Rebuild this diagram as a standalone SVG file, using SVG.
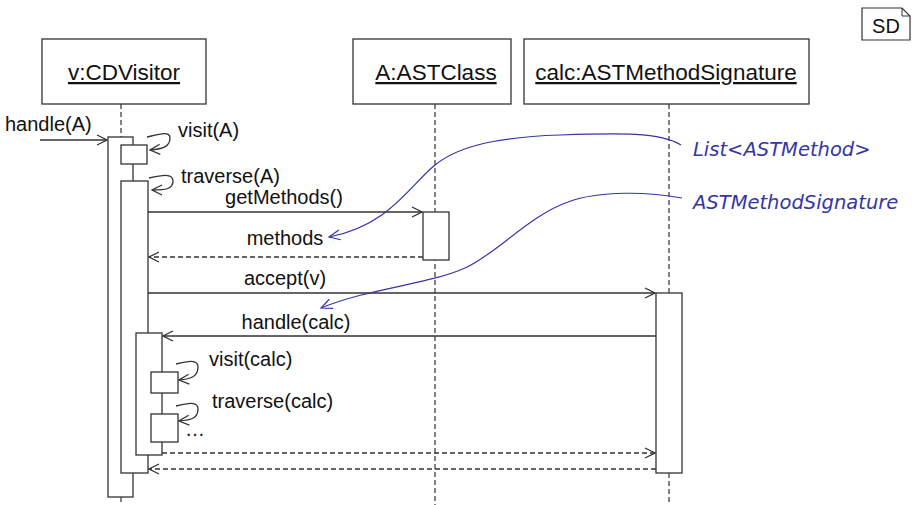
<svg xmlns="http://www.w3.org/2000/svg" width="912" height="505" viewBox="0 0 912 505">
  <style>
    .obj { fill: #fff; stroke: #333; stroke-width: 1.3; }
    .act { fill: #fff; stroke: #333; stroke-width: 1.3; }
    .title { font-family: "Liberation Sans", Arial, sans-serif; font-size: 22.5px; fill: #111; text-decoration: underline; text-anchor: middle; }
    .lbl { font-family: "Liberation Sans", Arial, sans-serif; font-size: 20px; fill: #111; }
    .life { stroke: #333; stroke-width: 1.2; stroke-dasharray: 5 3; fill: none; }
    .msg { stroke: #333; stroke-width: 1.3; fill: none; marker-end: url(#open); }
    .ret { stroke: #333; stroke-width: 1.3; fill: none; stroke-dasharray: 5 3; marker-end: url(#open); }
    .self { stroke: #333; stroke-width: 1.3; fill: none; marker-end: url(#open); }
    .note { stroke: #3535a5; stroke-width: 1.2; fill: none; marker-end: url(#openBlue); }
    .ntxt { font-family: "DejaVu Sans", sans-serif; font-style: italic; font-size: 19.5px; fill: #3535a5; }
  </style>
  <defs>
    <marker id="open" markerWidth="12" markerHeight="12" refX="11" refY="6" orient="auto" markerUnits="userSpaceOnUse">
      <path d="M1,1 L11,6 L1,11" fill="none" stroke="#333" stroke-width="1.3"/>
    </marker>
    <marker id="openBlue" markerWidth="14" markerHeight="12" refX="12" refY="6" orient="auto" markerUnits="userSpaceOnUse">
      <path d="M1,1 L12,6 L1,11" fill="none" stroke="#3535a5" stroke-width="1.2"/>
    </marker>
  </defs>

  <!-- frame tag -->
  <g id="frame-tag">
    <path d="M862,8 H902 L910,16 V40 H862 Z" fill="#fff" stroke="#333" stroke-width="1.2"/>
    <path d="M902,8 V16 H910" fill="none" stroke="#333" stroke-width="1"/>
    <text x="886" y="33" class="lbl" font-size="22" text-anchor="middle">SD</text>
  </g>

  <!-- lifelines -->
  <g id="lifelines">
    <line class="life" x1="121" y1="104" x2="121" y2="137"/>
    <line class="life" x1="121" y1="497" x2="121" y2="505"/>
    <line class="life" x1="435" y1="104" x2="435" y2="505"/>
    <line class="life" x1="669" y1="104" x2="669" y2="293"/>
    <line class="life" x1="669" y1="473" x2="669" y2="505"/>
  </g>

  <!-- objects -->
  <g id="v">
    <rect class="obj" x="42" y="39" width="164" height="65"/>
    <text class="title" x="124" y="80">v:CDVisitor</text>
  </g>
  <g id="A">
    <rect class="obj" x="353" y="39" width="158" height="65"/>
    <text class="title" x="436" y="80">A:ASTClass</text>
  </g>
  <g id="calc">
    <rect class="obj" x="524" y="39" width="285" height="65"/>
    <text class="title" x="666" y="80">calc:ASTMethodSignature</text>
  </g>

  <!-- activations -->
  <g id="activations">
    <rect class="act" x="108" y="137" width="25" height="360"/>
    <rect class="act" x="121" y="145" width="26" height="19"/>
    <rect class="act" x="121" y="181" width="27" height="292"/>
    <rect class="act" x="423" y="212" width="26" height="48"/>
    <rect class="act" x="656" y="293" width="26" height="180"/>
    <rect class="act" x="136" y="333" width="26" height="122"/>
    <rect class="act" x="151" y="372" width="27" height="21"/>
    <rect class="act" x="151" y="414" width="27" height="28"/>
  </g>

  <!-- messages -->
  <g id="connectors">
    <line class="msg" x1="40" y1="140" x2="107" y2="140"/>
    <path class="self" d="M147,137 C160,134 170,131 170,138 C170,146 164,149 150,150"/>
    <path class="self" d="M149,178 C162,175 173,173 173,181 C173,189 166,190 152,190"/>
    <line class="msg" x1="148" y1="212" x2="422" y2="212"/>
    <line class="ret" x1="423" y1="257" x2="149" y2="257"/>
    <line class="msg" x1="148" y1="293" x2="655" y2="293"/>
    <line class="msg" x1="656" y1="336" x2="163" y2="336"/>
    <path class="self" d="M176,364 C188,361 198,359 198,367 C198,376 192,379 179,380"/>
    <path class="self" d="M176,406 C188,403 198,401 198,409 C198,418 192,420 179,421"/>
    <line class="ret" x1="162" y1="453" x2="655" y2="453"/>
    <line class="ret" x1="656" y1="469" x2="149" y2="469"/>
  </g>

  <!-- message labels -->
  <g id="labels">
    <text class="lbl" x="5" y="131">handle(A)</text>
    <text class="lbl" x="178" y="137">visit(A)</text>
    <text class="lbl" x="181" y="183">traverse(A)</text>
    <text class="lbl" x="284" y="204" text-anchor="middle">getMethods()</text>
    <text class="lbl" x="285" y="245" text-anchor="middle">methods</text>
    <text class="lbl" x="285" y="285" text-anchor="middle">accept(v)</text>
    <text class="lbl" x="296" y="329" text-anchor="middle">handle(calc)</text>
    <text class="lbl" x="209" y="366">visit(calc)</text>
    <text class="lbl" x="212" y="408">traverse(calc)</text>
    <text class="lbl" x="185" y="436">…</text>
  </g>

  <!-- type annotations -->
  <g id="annotations">
    <path class="note" d="M681,145 C660,132 620,133 560,135 C500,137 460,145 435,165 C410,185 390,225 329,237"/>
    <text class="ntxt" x="693" y="156">List&lt;ASTMethod&gt;</text>
    <path class="note" d="M682,198 C650,192 600,190 568,202 C530,215 495,255 465,268 C430,284 370,288 321,308"/>
    <text class="ntxt" x="693" y="209">ASTMethodSignature</text>
  </g>
</svg>
